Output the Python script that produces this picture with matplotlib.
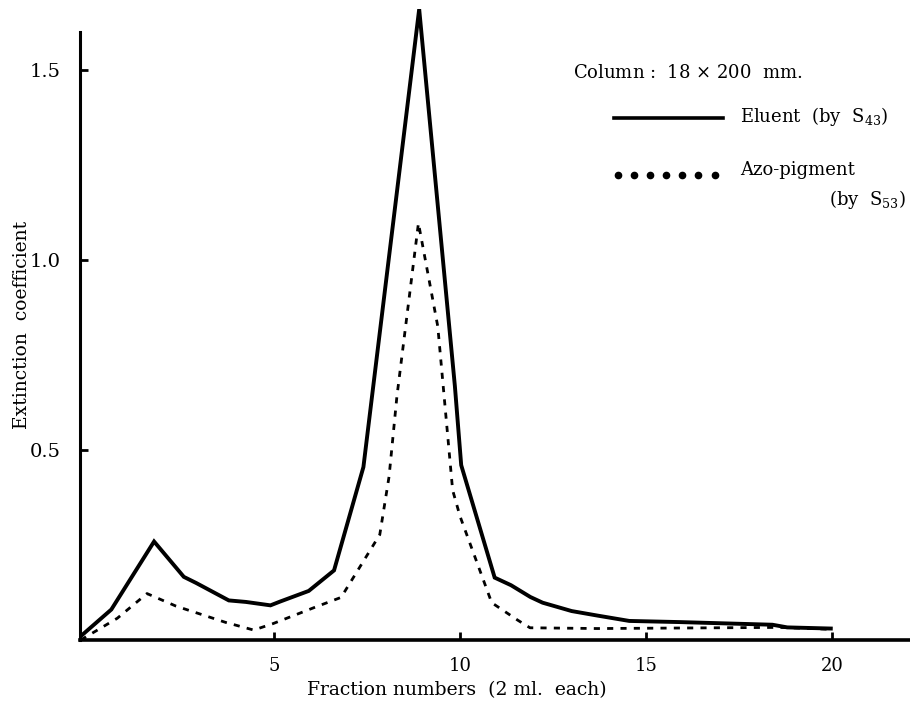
import matplotlib
matplotlib.use("Agg")
import matplotlib.pyplot as plt
from matplotlib.lines import Line2D

# values (fraction number, extinction coefficient)
eluent_x = [-0.2, 0.62, 1.77, 2.57, 2.9, 3.78, 4.24, 4.9, 5.16, 5.93, 6.61, 7.4,
            8.9, 9.86, 10.03, 10.93, 11.37, 11.89, 12.22, 13.0, 13.7, 14.55,
            15.9, 18.4, 18.8, 19.97]
eluent_y = [0.01, 0.08, 0.259, 0.166, 0.15, 0.104, 0.1, 0.091, 0.101, 0.129, 0.183, 0.455,
            1.66, 0.668, 0.46, 0.164, 0.144, 0.113, 0.098, 0.076, 0.064, 0.05,
            0.047, 0.04, 0.033, 0.03]

azo_x = [-0.2, 0.78, 1.58, 2.36, 3.7, 4.45, 4.97, 6.07, 6.8, 7.84, 8.09, 8.3,
         8.88, 9.4, 9.8, 10.0, 10.85, 11.55, 11.88, 13.7, 18.6, 19.97]
azo_y = [0.0, 0.057, 0.122, 0.089, 0.046, 0.026, 0.043, 0.085, 0.112, 0.277, 0.43, 0.64,
         1.097, 0.825, 0.394, 0.325, 0.098, 0.052, 0.032, 0.03, 0.033, 0.028]

x_ticks = [5, 10, 15, 20]
y_ticks = [0.5, 1.0, 1.5]
y_tick_labels = ["0.5", "1.0", "1.5"]

plt.rcParams['font.family'] = ['DejaVu Serif']
plt.rcParams['mathtext.fontset'] = 'dejavuserif'

fig = plt.figure(figsize=(9.1, 7.04), dpi=100)
ax = fig.add_axes([0.088, 0.091, 0.912, 0.896])

ax.plot(eluent_x, eluent_y, color="black", lw=2.8, solid_joinstyle="miter")
ax.plot(azo_x, azo_y, color="black", lw=2.0, linestyle=(0, (2.2, 2.6)))

ax.set_xlim(-0.22, 22.1)
ax.set_ylim(0, 1.66)

# only the left and bottom axis lines, as in the original
ax.spines["top"].set_visible(False)
ax.spines["right"].set_visible(False)
ax.spines["left"].set_linewidth(2.2)
ax.spines["bottom"].set_linewidth(2.6)
ax.spines["left"].set_bounds(0, 1.6)

ax.set_xticks(x_ticks)
ax.set_yticks(y_ticks)
ax.set_yticklabels(y_tick_labels)
ax.tick_params(axis="both", direction="in", length=6, width=2, labelsize=13)
ax.tick_params(axis="x", pad=12)
ax.tick_params(axis="y", pad=14, labelsize=14)

ax.set_xlabel("Fraction numbers  (2 ml.  each)", fontsize=13.5)
ax.set_ylabel("Extinction  coefficient", fontsize=13.5)
ax.xaxis.set_label_coords(0.454, -0.079)
ax.xaxis.label.set_va("center")
ax.yaxis.set_label_coords(-0.070, 0.5)
ax.yaxis.label.set_va("center")

# hand-made key in the upper right
fig.text(0.630, 0.896, "Column :  18 $\\times$ 200  mm.", fontsize=13, va="center")
fig.add_artist(Line2D([0.675, 0.795], [0.832, 0.832], color="black", lw=2.6))
fig.text(0.813, 0.834, "Eluent  (by  S$_{43}$)", fontsize=13, va="center")
dots_x = [0.679 + i * 0.0177 for i in range(7)]
fig.add_artist(Line2D(dots_x, [0.751] * 7, color="black", lw=0,
                      marker="o", markersize=4.5))
fig.text(0.813, 0.758, "Azo-pigment", fontsize=13, va="center")
fig.text(0.995, 0.717, "(by  S$_{53}$)", fontsize=13, va="center", ha="right")

fig.savefig("out.png", dpi=100)
